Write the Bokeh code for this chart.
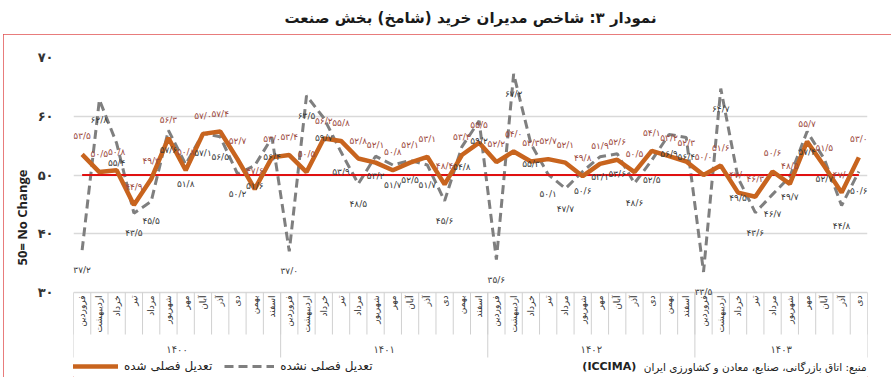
import numpy as np
from bokeh.plotting import figure
from bokeh.models import Range1d, FixedTicker, Legend, LegendItem, Label, ColumnDataSource
from bokeh.layouts import column
from bokeh.core.properties import value
from bokeh.embed import file_html
from bokeh.resources import INLINE

# ---------------- data ----------------
title_text = "نمودار ۳: شاخص مدیران خرید (شامخ) بخش صنعت"
months = ["فروردین", "اردیبهشت", "خرداد", "تیر", "مرداد", "شهریور",
          "مهر", "آبان", "آذر", "دی", "بهمن", "اسفند"]
years = ["۱۴۰۰", "۱۴۰۱", "۱۴۰۲", "۱۴۰۳"]
months_per_year = [12, 12, 12, 10]

# seasonally adjusted (orange)
sa = [53.5, 50.5, 50.8, 44.9, 49.3, 56.3, 50.8, 57.0, 57.4, 52.7, 47.6, 53.0,
      53.4, 50.5, 56.2, 55.8, 52.8, 52.1, 50.8, 52.1, 53.1, 48.4, 53.4, 55.5,
      52.2, 54.0, 52.3, 52.7, 52.1, 49.8, 51.9, 52.6, 50.5, 54.1, 53.2, 52.3,
      50.0, 51.6, 47.0, 46.3, 50.6, 48.5, 55.7, 51.5, 47.0, 53.0]
# not seasonally adjusted (grey dashed)
nsa = [37.2, 62.8, 55.4, 43.5, 45.5, 57.6, 51.8, 57.1, 56.5, 50.2, 51.6, 56.4,
       37.0, 63.5, 59.7, 53.9, 48.5, 53.2, 51.7, 52.5, 51.7, 45.6, 54.8, 59.2,
       35.6, 67.2, 55.3, 50.1, 47.7, 50.6, 53.1, 53.6, 48.6, 52.5, 56.9, 56.4,
       33.5, 64.7, 49.5, 43.6, 46.7, 49.7, 57.4, 52.7, 44.8, 50.6]
threshold = 50
y_ticks = [30, 40, 50, 60, 70]
y_tick_labels = ["۳۰", "۴۰", "۵۰", "۶۰", "۷۰"]
legend_sa = "تعدیل فصلی شده"
legend_nsa = "تعدیل فصلی نشده"
source_text = "منبع: اتاق بازرگانی، صنایع، معادن و کشاورزی ایران"
source_abbr = "(ICCIMA)"
y_axis_label = "50= No Change"

# ---------------- helpers ----------------
FA = str.maketrans("0123456789.", "۰۱۲۳۴۵۶۷۸۹/")
def fa(v):
    return f"{v:.1f}".translate(FA)

n = len(sa)
x = np.arange(n)
cats = [m for ny in months_per_year for m in months[:ny]]
bounds = np.cumsum([0] + months_per_year) - 0.5
group_centers = (bounds[:-1] + bounds[1:]) / 2.0

PX = 5.875          # pixels per value unit (layout)
MAIN_H = 343
TOP = 23
def ypix(page_y):   # page y -> data value (layout helper)
    return 30 - (page_y - 292) / PX
Y0 = 70 - (MAIN_H - TOP) / PX

FONT = "DejaVu Sans"

# ---------------- title ----------------
t = figure(width=894, height=34, x_range=Range1d(0, 1), y_range=Range1d(0, 1),
           output_backend="svg", toolbar_location=None,
           x_axis_location=None, y_axis_location=None, min_border=0)
t.grid.visible = False
t.outline_line_color = None
t.add_layout(Label(x=0.5, y=0.5, text=title_text, text_align="center",
                   text_baseline="middle", text_font=FONT,
                   text_font_size="15px", text_font_style="bold",
                   text_color="#1a1a1a"))

# ---------------- main ----------------
p = figure(width=888, height=MAIN_H, x_range=Range1d(-0.5, n - 0.5),
           y_range=Range1d(Y0, 70), output_backend="svg", toolbar_location=None,
           x_axis_location=None, min_border_left=70, min_border_right=24,
           min_border_top=TOP, min_border_bottom=0)
p.margin = (0, 3, 2, 3)
p.styles = {"outline": "1px solid #E05050", "outline-offset": "-1px"}
p.outline_line_color = None
p.xgrid.visible = False
p.ygrid.ticker = FixedTicker(ticks=y_ticks)
p.ygrid.grid_line_color = "#D9D9D9"
p.ygrid.grid_line_width = 1.5

ax = p.yaxis[0]
ax.ticker = FixedTicker(ticks=y_ticks)
ax.major_label_overrides = {t_: l_ for t_, l_ in zip(y_ticks, y_tick_labels)}
ax.axis_line_color = None
ax.major_tick_line_color = None
ax.minor_tick_line_color = None
ax.major_label_standoff = 14
ax.major_label_text_font = FONT
ax.major_label_text_font_size = "13px"
ax.major_label_text_font_style = "bold"
ax.major_label_text_color = "#333333"
ax.axis_label = y_axis_label
ax.axis_label_text_font = "Open Sans"
ax.axis_label_text_font_size = "13px"
ax.axis_label_text_font_style = "bold"
ax.axis_label_text_color = "#222222"
ax.axis_label_standoff = 4

# table of months / years
edges = bounds[0] + np.arange(n + 1)
p.segment(x0=edges, y0=30, x1=edges, y1=ypix(334), line_color="#D0D0D0", line_width=1)
p.segment(x0=bounds, y0=30, x1=bounds, y1=ypix(357), line_color="#D0D0D0", line_width=1)
p.text(x=x, y=np.full(n, 30.0), text=cats, angle=np.pi / 2, y_offset=3,
       text_align="right", text_baseline="middle", text_font=value(FONT),
       text_font_size="9px", text_color="#333333")
p.text(x=group_centers, y=np.full(len(years), ypix(349)), text=years,
       text_align="center", text_baseline="middle", text_font=value(FONT),
       text_font_size="10px", text_color="#444444")

# series
src = ColumnDataSource(dict(x=x, sa=sa, nsa=nsa, base=np.full(n, float(threshold)),
                            sa_lab=[fa(v) for v in sa], nsa_lab=[fa(v) for v in nsa]))
r_nsa = p.line("x", "nsa", source=src, line_color="#7F7F7F", line_width=3,
               line_dash="9 5")
p.line("x", "base", source=src, line_color="#E01010", line_width=2)
r_sa = p.line("x", "sa", source=src, line_color="#C8641E", line_width=4.5)

p.text("x", "sa", text="sa_lab", source=src, y_offset=-18, text_align="center",
       text_baseline="middle", text_font=value(FONT), text_font_size="9px",
       text_color="#9C4A40")
p.text("x", "nsa", text="nsa_lab", source=src, y_offset=20, text_align="center",
       text_baseline="middle", text_font=value(FONT), text_font_size="9px",
       text_color="#3A3A3A")

legend = Legend(items=[LegendItem(label=legend_sa, renderers=[r_sa]),
                       LegendItem(label=legend_nsa, renderers=[r_nsa])],
                orientation="horizontal", location=(-5, 4),
                background_fill_alpha=0, border_line_color=None,
                padding=0, margin=0, spacing=12, glyph_width=50,
                glyph_height=14, label_height=14, label_standoff=6,
                label_text_font=FONT, label_text_font_size="12px",
                label_text_color="#222222")
p.add_layout(legend)

p.add_layout(Label(x=n - 0.5 - 0.05, y=ypix(366), text=source_text,
                   text_align="right", text_baseline="middle", text_font=FONT,
                   text_font_size="10.5px", text_color="#222222"))
p.add_layout(Label(x=32.1, y=ypix(366), text=source_abbr,
                   text_align="right", text_baseline="middle", text_font=FONT,
                   text_font_size="11px", text_font_style="bold",
                   text_color="#222222"))

layout = column(t, p, spacing=0)
open("out.html", "w").write(file_html(layout, INLINE))
